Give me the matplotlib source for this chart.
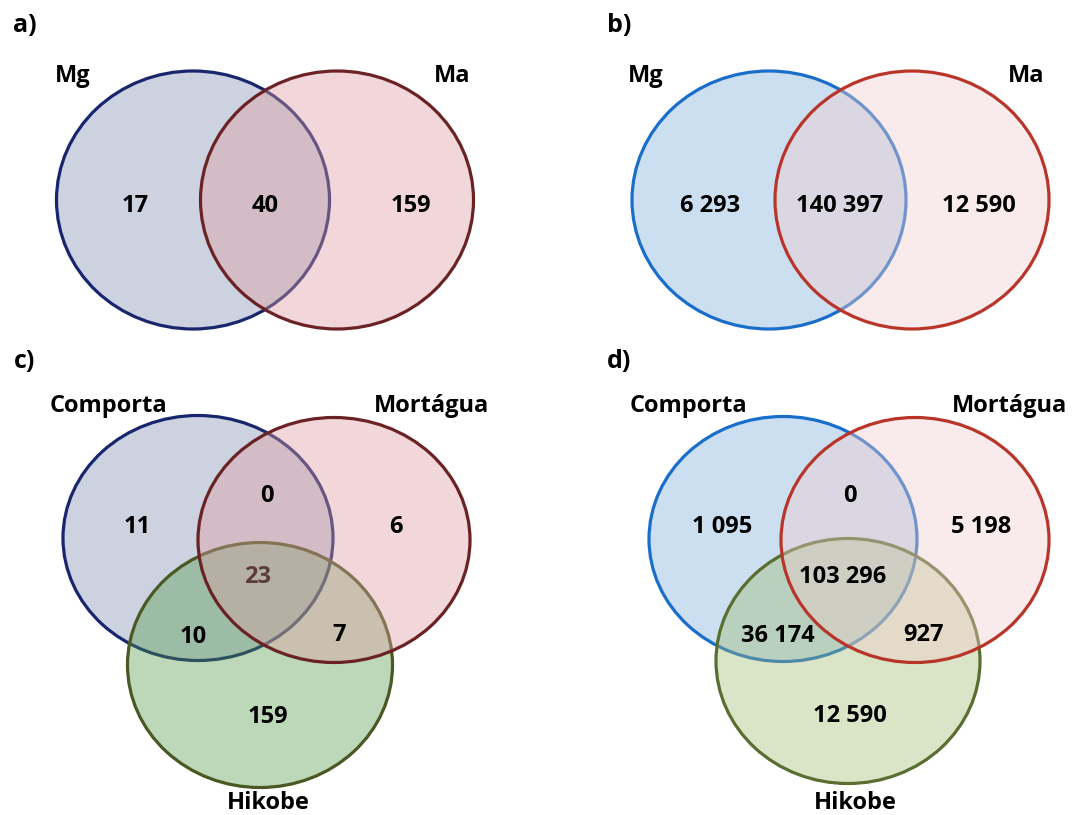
import matplotlib.pyplot as plt
from matplotlib.colors import to_rgba
from matplotlib.patches import Ellipse

# data
panel_tags = ['a)', 'b)', 'c)', 'd)']
two_sets = ['Mg', 'Ma']
three_sets = ['Comporta', 'Mortágua', 'Hikobe']
# two-set regions: only left, both, only right
counts_a = [17, 40, 159]
counts_b = [6293, 140397, 12590]
# three-set regions: C only, C&M, M only, all, C&H, M&H, H only
counts_c = [11, 0, 6, 23, 10, 7, 159]
counts_d = [1095, 0, 5198, 103296, 36174, 927, 12590]


def fmt(n):
    # space as thousands separator
    return f'{n:,}'.replace(',', ' ')


plt.rcParams['font.family'] = ['Open Sans', 'DejaVu Sans']
fig = plt.figure(figsize=(10.83, 8.15), dpi=100)
ax = fig.add_axes([0, 0, 1, 1])
ax.set_xlim(0, 1083)
ax.set_ylim(815, 0)
ax.axis('off')

fs = 17


def circle(cx, cy, w, h, fill, alpha, edge):
    ax.add_patch(Ellipse((cx, cy), w, h, facecolor=to_rgba(fill, alpha),
                         edgecolor=edge, linewidth=2.3))


def label(x, y, s, color='black', size=fs):
    ax.text(x, y, s, ha='center', va='center', fontsize=size,
            fontweight='bold', color=color)


# ---- a) ----
label(25, 26, panel_tags[0], size=18)
circle(193, 200, 273, 258, '#9BA7C1', 0.5, '#19266E')
circle(337, 200, 273, 258, '#DE9DA2', 0.4, '#6B2225')
label(73, 76, two_sets[0])
label(452, 76, two_sets[1])
for x, n in zip([135, 265, 411], counts_a):
    label(x, 206, fmt(n))

# ---- b) ----
label(619, 26, panel_tags[1], size=18)
circle(769, 200, 274, 258, '#99C1E2', 0.5, '#1A6ECB')
circle(912, 200, 274, 258, '#F2CDCD', 0.4, '#B8352A')
label(646, 76, two_sets[0])
label(1026, 76, two_sets[1])
for x, n in zip([710, 840, 979], counts_b):
    label(x, 206, fmt(n))

# ---- c) ----  (draw order: Comporta, Hikobe, Mortágua)
label(25, 362, panel_tags[2], size=18)
circle(198, 538, 270, 245, '#9BA7C1', 0.5, '#19266E')
circle(260, 665, 265, 245, '#4F9947', 0.38, '#4A5823')
circle(334, 540, 272, 245, '#DE9DA2', 0.4, '#6B2225')
label(108, 406, three_sets[0])
label(432, 406, three_sets[1])
label(268, 803, three_sets[2])
pos_c = [(137, 527), (267, 496), (396, 527), (258, 577),
         (193, 637), (339, 635), (268, 717)]
for (x, y), n in zip(pos_c, counts_c):
    label(x, y, fmt(n), color='#5A3C3C' if n == 23 else 'black')

# ---- d) ----  (draw order: Comporta, Hikobe, Mortágua)
label(619, 362, panel_tags[3], size=18)
circle(783, 539, 268, 245, '#99C1E2', 0.5, '#1A6ECB')
circle(848, 661, 264, 245, '#9EB86E', 0.38, '#5A6E32')
circle(915, 540, 268, 245, '#F2CDCD', 0.4, '#B8352A')
label(688, 406, three_sets[0])
label(1010, 406, three_sets[1])
label(855, 803, three_sets[2])
pos_d = [(722, 527), (850, 496), (981, 527), (843, 577),
         (778, 636), (923, 635), (850, 716)]
for (x, y), n in zip(pos_d, counts_d):
    label(x, y, fmt(n))

fig.savefig('out.png', dpi=100)
